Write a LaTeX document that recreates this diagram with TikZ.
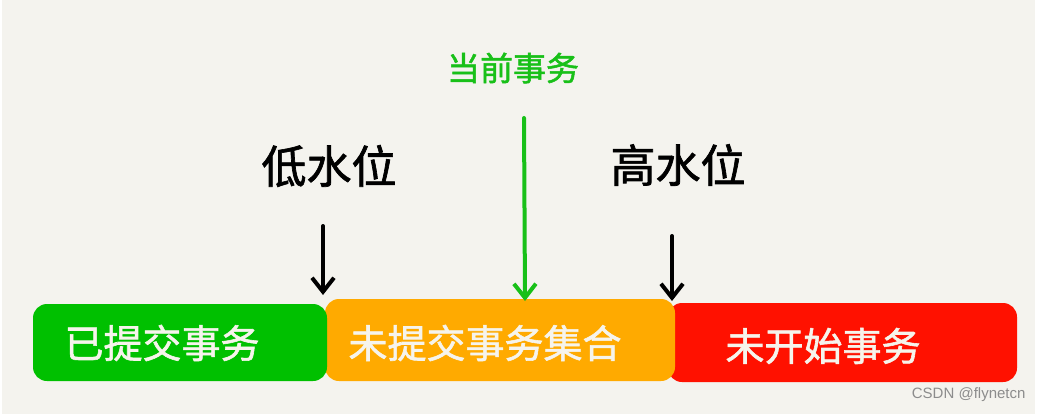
\documentclass[tikz,border=0pt]{standalone}
\usepackage{fontspec}
\setmainfont{Liberation Sans}
\newfontfamily\cjk[FakeBold=1.5]{Noto Sans CJK SC}
\usetikzlibrary{arrows.meta}
\definecolor{bg}{HTML}{F4F3EE}
\definecolor{cgreen}{HTML}{00C000}
\definecolor{corange}{HTML}{FFAA00}
\definecolor{cred}{HTML}{FF1100}
\definecolor{ctext}{HTML}{F6F4EC}
\definecolor{tgreen}{HTML}{18C018}
\begin{document}
\begin{tikzpicture}[x=1pt,y=-1pt,
  bar/.style={rounded corners=14pt},
  bartext/.style={font=\cjk\fontsize{39}{39}\selectfont, text=ctext},
  label/.style={font=\cjk\fontsize{45}{45}\selectfont, text=black},
  pointer/.style={line width=4pt, line cap=round, -{Straight Barb[length=14pt,width=22pt,line width=4pt]}}
]
\useasboundingbox (0,0) rectangle (1043,414);
\fill[white] (0,0) rectangle (1043,414);
\fill[bg] (2,0) rectangle (1035,414);
% bars
\fill[cred,bar] (668,303) rectangle (1017,382);
\fill[corange,bar] (325,299) rectangle (675,381);
\fill[cgreen,bar] (33,304) rectangle (327,381);
\node[bartext] (done) at (162,343) {已提交事务};
\node[bartext] (open) at (485,343) {未提交事务集合};
\node[bartext] (todo) at (823,346) {未开始事务};
% labels
\node[label] (low) at (329,166) {低水位};
\node[label] (high) at (678,165) {高水位};
\node[font=\cjk\fontsize{33}{33}\selectfont, text=tgreen] (cur) at (513,68) {当前事务};
% arrow coordinates
\coordinate (lowStart) at (323,226);
\coordinate (lowEnd) at (323,295);
\coordinate (curStart) at (524,118);
\coordinate (curEnd) at (525,301);
\coordinate (highStart) at (672,236);
\coordinate (highEnd) at (672,301);
\draw[pointer] (lowStart) -- (lowEnd);
\draw[pointer, draw=tgreen] (curStart) -- (curEnd);
\draw[pointer] (highStart) -- (highEnd);
\node[font=\fontsize{15}{15}\selectfont, text=black!45, anchor=east] (wm) at (1029,395) {CSDN @flynetcn};
\end{tikzpicture}
\end{document}
